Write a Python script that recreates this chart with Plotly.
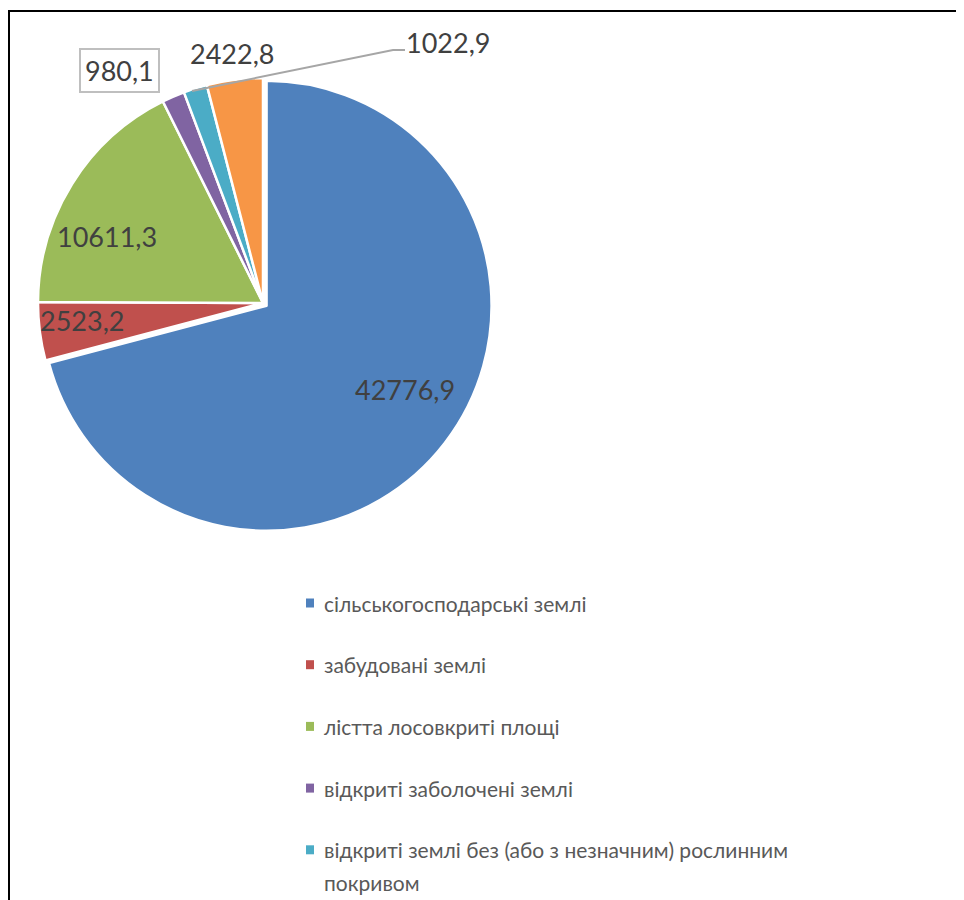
import plotly.graph_objects as go

# ---- data ----
categories = [
    "сільськогосподарські землі",
    "забудовані землі",
    "лістта лосовкриті площі",
    "відкриті заболочені землі",
    "відкриті землі без (або з незначним) рослинним покривом",
    "води",
]
values = [42776.9, 2523.2, 10611.3, 980.1, 1022.9, 2422.8]
colors = ["#4F81BD", "#C0504D", "#9BBB59", "#8064A2", "#4BACC6", "#F79646"]
legend_lines = [
    ["сільськогосподарські землі"],
    ["забудовані землі"],
    ["лістта лосовкриті площі"],
    ["відкриті заболочені землі"],
    ["відкриті землі без (або з незначним) рослинним", "покривом"],
    ["води"],
]

W, H = 964, 900
OFF = 8  # page body margin


def px(x):
    return (x - OFF) / W


def py(y):
    return 1 - (y - OFF) / H


def fmt(v):
    return f"{v:.1f}".replace(".", ",")


# pie geometry (pixels in final screenshot)
cx, cy, r = 263, 303, 225
pull_blue = 0.02
R = r * (1 + pull_blue)

fig = go.Figure()
fig.add_trace(
    go.Pie(
        labels=categories,
        values=values,
        sort=False,
        direction="clockwise",
        rotation=0,
        pull=[pull_blue, 0, 0, 0, 0, 0],
        marker=dict(colors=colors, line=dict(color="white", width=2.5)),
        textinfo="none",
        hoverinfo="label+value",
        showlegend=False,
        domain=dict(x=[px(cx - R), px(cx + R)], y=[py(cy + R), py(cy - R)]),
    )
)

annotations = []
shapes = []

# data labels (positions in pixels)
label_pos = [(405, 389), (82, 320), (107, 236), (119, 70), (448, 43), (232, 53)]
for i, (v, (lx, ly)) in enumerate(zip(values, label_pos)):
    a = dict(
        x=px(lx), y=py(ly), xref="paper", yref="paper",
        text=fmt(v), showarrow=False,
        font=dict(family="Lato, Open Sans, sans-serif", size=27, color="#404040"),
        xanchor="center", yanchor="middle",
    )
    if i == 3:
        a.update(bordercolor="#BFBFBF", borderwidth=2, borderpad=4, bgcolor="white")
    annotations.append(a)

# leader line for 1022,9
shapes.append(dict(type="path", xref="paper", yref="paper",
                   path=f"M {px(192)},{py(91)} L {px(393)},{py(50)} L {px(405)},{py(50)}",
                   line=dict(color="#A6A6A6", width=2)))

# custom legend (entries below the visible area are clipped, as in the reference)
row_y = 603
row_step = 61.7
y = row_y
for c, lines in zip(colors, legend_lines):
    if y + 10 > H:
        break
    shapes.append(dict(type="rect", xref="paper", yref="paper",
                       x0=px(306), x1=px(314), y0=py(y - 4.5), y1=py(y + 4.5),
                       fillcolor=c, line=dict(width=0)))
    for j, t in enumerate(lines):
        annotations.append(dict(
            x=px(322), y=py(y + j * 33), xref="paper", yref="paper",
            text=t, showarrow=False, xanchor="left", yanchor="middle",
            font=dict(family="Lato, Open Sans, sans-serif", size=21, color="#595959"),
        ))
    y += row_step

# chart frame (left and top edges visible)
shapes.append(dict(type="line", xref="paper", yref="paper",
                   x0=px(9), x1=px(9), y0=py(11), y1=py(910), line=dict(color="black", width=2)))
shapes.append(dict(type="line", xref="paper", yref="paper",
                   x0=px(8), x1=px(975), y0=py(11), y1=py(11), line=dict(color="black", width=2)))

fig.update_layout(
    width=W, height=H,
    margin=dict(l=0, r=0, t=0, b=0),
    paper_bgcolor="white", plot_bgcolor="white",
    annotations=annotations, shapes=shapes,
    showlegend=False,
)

fig.write_html("out.html")
